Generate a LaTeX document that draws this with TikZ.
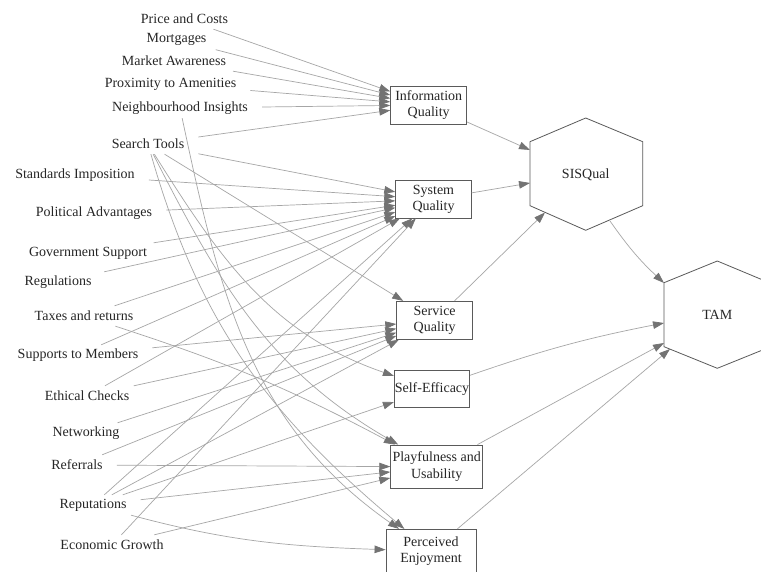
\documentclass[tikz,border=0pt]{standalone}
\usepackage{fontspec}
\setmainfont{Liberation Serif}
\usetikzlibrary{arrows.meta}
\definecolor{linec}{HTML}{A6A6A6}
\definecolor{tipc}{HTML}{737373}
\definecolor{boxc}{HTML}{5A5A5A}
\definecolor{txtc}{HTML}{262626}
\begin{document}
\begin{tikzpicture}[x=1pt,y=1pt,
  lbl/.style={font=\fontsize{14}{16.5}\selectfont, text=txtc, inner xsep=14pt, inner ysep=0pt, minimum height=20pt},
  boxn/.style={draw=boxc, line width=0.8pt, font=\fontsize{14}{16.5}\selectfont, text=txtc, align=center, inner sep=0pt},
  conn/.style={draw=linec, line width=0.7pt, -{Triangle[length=11pt,width=7.5pt,color=tipc,fill=tipc]}},
  hexc/.style={draw=boxc, line width=0.8pt}]
\clip (0,0) rectangle (761,-572);
\fill[white] (0,0) rectangle (761,-572);

% source labels
\node[lbl] (pc)  at (184.5,-19)  {Price and Costs};
\node[lbl] (mo)  at (176.5,-39.5){Mortgages};
\node[lbl] (ma)  at (174,-61)    {Market Awareness};
\node[lbl] (pa)  at (170.5,-84)  {Proximity to Amenities};
\node[lbl] (ni)  at (180,-108)   {Neighbourhood Insights};
\node[lbl] (st)  at (148,-144)   {Search Tools};
\node[lbl] (si)  at (75,-175)    {Standards Imposition};
\node[lbl] (pol) at (94,-213)    {Political Advantages};
\node[lbl] (gs)  at (88,-253)    {Government Support};
\node[lbl] (reg) at (58,-282)    {Regulations};
\node[lbl] (tax) at (84,-316)    {Taxes and returns};
\node[lbl] (sup) at (78,-355)    {Supports to Members};
\node[lbl] (eth) at (87,-396)    {Ethical Checks};
\node[lbl] (net) at (86,-433)    {Networking};
\node[lbl] (ref) at (77,-465)    {Referrals};
\node[lbl] (rep) at (93,-505)    {Reputations};
\node[lbl] (eg)  at (112,-545)   {Economic Growth};

% boxes
\node[boxn, minimum width=76pt, minimum height=38pt]   (iq)  at (428.7,-105)   {Information\\Quality};
\node[boxn, minimum width=75.6pt, minimum height=37.3pt] (sys) at (433.5,-199.3) {System\\Quality};
\node[boxn, minimum width=76pt, minimum height=38pt]   (svq) at (434.7,-320.3) {Service\\Quality};
\node[boxn, minimum width=75.4pt, minimum height=37.7pt] (se)  at (432,-389)     {Self-Efficacy};
\node[boxn, minimum width=92pt, minimum height=43.7pt] (pu)  at (436.7,-466.8) {Playfulness and\\Usability};
\node[boxn, minimum width=90pt, minimum height=44pt]   (pe)  at (431,-551.3)   {Perceived\\Enjoyment};

% hexagons
\draw[hexc] (585.7,-118) -- (642.7,-141.7) -- (642.7,-205.7) -- (585.7,-230.3) -- (530,-205.7) -- (530,-141.7) -- cycle;
\node[lbl, inner xsep=0pt] (sis) at (585.7,-174.3) {SISQual};
\draw[hexc] (717.3,-261) -- (770,-283) -- (770,-347) -- (717.3,-368.3) -- (664,-346.7) -- (664,-282.7) -- cycle;
\node[lbl, inner xsep=0pt] (tam) at (717.3,-315) {TAM};

\coordinate (sisA) at (530,-150);
\coordinate (sisB) at (530,-183);
\coordinate (sisC) at (545,-212.5);
\coordinate (sisD) at (610,-221);
\coordinate (tamA) at (664,-283);
\coordinate (tamB) at (664,-323);
\coordinate (tamC) at (664,-343);
\coordinate (tamD) at (670,-349);

% to Information Quality
\foreach \s in {pc,mo,ma,pa,ni,st} \draw[conn] (\s) -- (iq);
% to System Quality
\foreach \s in {st,si,pol,gs,reg,tax,sup,eth,rep,eg} \draw[conn] (\s) -- (sys);
% to Service Quality
\foreach \s in {st,sup,eth,net,ref,rep} \draw[conn] (\s) -- (svq);
% to Self-Efficacy
\draw[conn] (rep) -- (se);
\draw[conn] (st) to[out=-58,in=161] (se);
% to Playfulness and Usability
\foreach \s in {ref,rep,eg} \draw[conn] (\s) -- (pu);
\draw[conn] (st) to[out=-63,in=150] (pu);
\draw[conn] (tax) to[out=-18,in=152] (pu);
% to Perceived Enjoyment
\draw[conn] (st) to[out=-74,in=140] (pe);
\draw[conn] (ni) to[out=-78,in=145] (pe);
\draw[conn] (rep) to[out=-15,in=178] (pe);

% second level
\draw[conn] (iq) -- (sisA);
\draw[conn] (sys) -- (sisB);
\draw[conn] (svq) -- (sisC);
\draw[conn] (sisD) to[bend right=6] (tamA);
\draw[conn] (se) to[bend left=4] (tamB);
\draw[conn] (pu) -- (tamC);
\draw[conn] (pe) -- (tamD);
\end{tikzpicture}
\end{document}
